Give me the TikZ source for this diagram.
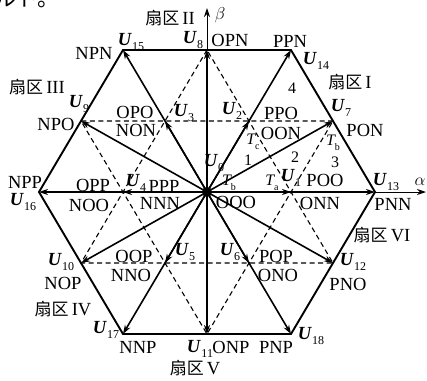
\documentclass[tikz,border=0pt]{standalone}
\usepackage{fontspec}
\setmainfont{Liberation Serif}
\newfontfamily\cjk{Noto Sans CJK SC}
\newfontfamily\jpf{Noto Sans CJK JP}
\usetikzlibrary{arrows.meta}
\newcommand\VU[1]{\textbf{\textit{U}}\kern0.3pt\raisebox{-0.25em}{\fontsize{12bp}{12bp}\selectfont #1}}
\newcommand\VT[1]{\textit{T}\kern-1pt\raisebox{-0.28em}{\fontsize{10bp}{10bp}\selectfont #1}}
\newcommand\SQ[1]{{\cjk\fontsize{17bp}{18bp}\selectfont 扇区}\,#1}
\begin{document}
\begin{tikzpicture}[x=1bp,y=-1bp,
  lab/.style={inner sep=0pt, font=\fontsize{18.5bp}{20bp}\selectfont},
  tlab/.style={inner sep=0pt, font=\fontsize{16bp}{17bp}\selectfont},
  hexedge/.style={line width=1.9bp, line join=miter},
  vec/.style={line width=1.6bp, -{Stealth[length=9bp,width=6bp]}},
  dashline/.style={line width=1.1bp, dash pattern=on 5bp off 3.5bp},
  axisline/.style={line width=1bp, -{Stealth[length=9bp,width=6bp]}}]
\useasboundingbox (0,0) rectangle (427,381);
% points
\coordinate (O) at (207,192);
\coordinate (U1) at (291,192);
\coordinate (U2) at (249,121);
\coordinate (U3) at (165,121);
\coordinate (U4) at (123,192);
\coordinate (U5) at (165,263);
\coordinate (U6) at (249,263);
\coordinate (U7) at (333,121);
\coordinate (U8) at (207,50);
\coordinate (U9) at (81,121);
\coordinate (U10) at (81,263);
\coordinate (U11) at (207,334);
\coordinate (U12) at (333,263);
\coordinate (U13) at (375,192);
\coordinate (U14) at (291,50);
\coordinate (U15) at (123,50);
\coordinate (U16) at (39,192);
\coordinate (U17) at (123,334);
\coordinate (U18) at (291,334);
\coordinate (atip) at (426,192);
\coordinate (btip) at (207,8);
% dashed hexagram
\draw[dashline] (U7) -- (U9) -- (U11) -- cycle;
\draw[dashline] (U8) -- (U10) -- (U12) -- cycle;
% outer hexagon
\draw[hexedge] (U13) -- (U14) -- (U15) -- (U16) -- (U17) -- (U18) -- cycle;
% axes
\draw[axisline] (U13) -- (atip);
\draw[axisline] (U8) -- (btip);
% vectors
\foreach \p in {U1,U2,U3,U4,U5,U6,U7,U8,U9,U10,U11,U12,U13,U14,U15,U16,U17,U18}
  \draw[vec] (O) -- (\p);
\fill (O) circle (5);
% fragment at top
\node[inner sep=0pt, anchor=south west, font=\jpf\fontsize{22bp}{22bp}\selectfont] (frag) at (-6,8) {ルト。};
% labels
\node[lab] (s2) at (170,18) {\SQ{II}};
\node[lab] (lb) at (220,15) {$\beta$};
\node[lab] (l8) at (193,40) {\VU{8}};
\node[lab] (lOPN) at (230,40) {OPN};
\node[lab] (lPPN) at (290,41) {PPN};
\node[lab] (l14) at (316,61) {\VU{14}};
\node[lab] (s1) at (350,82) {\SQ{I}};
\node[tlab] (n4) at (292,88) {4};
\node[lab] (l15) at (131,42) {\VU{15}};
\node[lab] (lNPN) at (94,53) {NPN};
\node[lab] (s3) at (37,87) {\SQ{III}};
\node[lab] (l9) at (79,104) {\VU{9}};
\node[lab] (lNPO) at (56,124) {NPO};
\node[lab] (lOPO) at (135,112) {OPO};
\node[lab] (lNON) at (136,130) {NON};
\node[lab] (l3) at (184,113) {\VU{3}};
\node[lab] (l2) at (232,111) {\VU{2}};
\node[lab] (lPPO) at (281,113) {PPO};
\node[lab] (l7) at (341,108) {\VU{7}};
\node[lab] (lPON) at (365,130) {PON};
\node[lab] (lOON) at (281,133) {OON};
\node[tlab] (tc) at (253,142) {\VT{c}};
\node[tlab] (n1) at (248,160) {1};
\node[tlab] (n2) at (295,157) {2};
\node[tlab] (tb2) at (333,143) {\VT{b}};
\node[tlab] (n3) at (335,162) {3};
\node[lab] (l0) at (214,163) {\VU{0}};
\node[tlab] (tb1) at (229,183) {\VT{b}};
\node[tlab] (ta) at (272,183) {\VT{a}};
\node[lab] (l1) at (291,178) {\VU{1}};
\node[lab] (lPOO) at (325,180) {POO};
\node[lab] (l13) at (386,182) {\VU{13}};
\node[lab] (la) at (420,182) {$\alpha$};
\node[lab] (lOOO) at (236,202) {OOO};
\node[lab] (lONN) at (320,203) {ONN};
\node[lab] (lPNN) at (393,204) {PNN};
\node[lab] (lNPP) at (25,182) {NPP};
\node[lab] (l16) at (23,202) {\VU{16}};
\node[lab] (lOPP) at (93,185) {OPP};
\node[lab] (lNOO) at (89,205) {NOO};
\node[lab] (l4) at (136,183) {\VU{4}};
\node[lab] (lPPP) at (164,186) {PPP};
\node[lab] (lNNN) at (160,203) {NNN};
\node[lab] (s6) at (382,235) {\SQ{VI}};
\node[lab] (l5) at (185,252) {\VU{5}};
\node[lab] (l6) at (230,252) {\VU{6}};
\node[lab] (lOOP) at (134,256) {OOP};
\node[lab] (lNNO) at (131,275) {NNO};
\node[lab] (lPOP) at (276,256) {POP};
\node[lab] (lONO) at (278,275) {ONO};
\node[lab] (l10) at (61,262) {\VU{10}};
\node[lab] (lNOP) at (63,283) {NOP};
\node[lab] (l12) at (353,262) {\VU{12}};
\node[lab] (lPNO) at (348,284) {PNO};
\node[lab] (s4) at (63,309) {\SQ{IV}};
\node[lab] (l17) at (106,330) {\VU{17}};
\node[lab] (lNNP) at (138,347) {NNP};
\node[lab] (l11) at (200,349) {\VU{11}};
\node[lab] (lONP) at (231,347) {ONP};
\node[lab] (lPNP) at (276,347) {PNP};
\node[lab] (l18) at (311,336) {\VU{18}};
\node[lab] (s5) at (195,368) {\SQ{V}};
\end{tikzpicture}
\end{document}
